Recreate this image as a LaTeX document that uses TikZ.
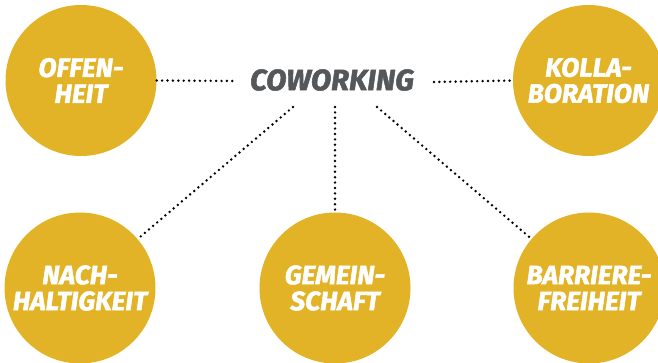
\documentclass[tikz,border=0pt]{standalone}
\usepackage{fontspec}
\setmainfont{Fira Sans}[BoldItalicFeatures={FakeBold=1.8}]
\definecolor{gold}{HTML}{E2B327}
\definecolor{slate}{HTML}{54585A}
\tikzset{
  bubble/.style={circle, fill=gold, minimum size=151pt, inner sep=0pt, text=white, align=center,
    font=\fontsize{26.5}{26}\selectfont\bfseries\itshape},
  hub/.style={text=slate, inner sep=0pt, font=\fontsize{29.5}{32}\selectfont\bfseries\itshape},
  dotline/.style={line width=2.7pt, line cap=round, dash pattern=on 0pt off 5.4pt, black}
}
\begin{document}
\begin{tikzpicture}[x=1pt,y=-1pt]
\useasboundingbox (0,0) rectangle (658,363);
\clip (0,0) rectangle (658,363);
\node[bubble] (offen) at (81,80.5) {OFFEN-\\HEIT};
\node[bubble] (kolla) at (588.5,80.5) {KOLLA-\\BORATION};
\node[bubble] (nach) at (80,288) {NACH-\\HALTIGKEIT};
\node[bubble] (gemein) at (335,288) {GEMEIN-\\SCHAFT};
\node[bubble] (barr) at (589,288) {BARRIERE-\\FREIHEIT};
\node[hub] (cw) at (332,80) {COWORKING};
\coordinate (cwL) at (237,81);
\coordinate (cwR) at (434,82);
\coordinate (cwSW) at (293,107);
\coordinate (cwS) at (335,107);
\coordinate (cwSE) at (377,107);
\draw[dotline] (offen.east) -- (cwL);
\draw[dotline] (cwR) -- (kolla.west);
\draw[dotline] (cwSW) -- (nach);
\draw[dotline] (cwS) -- (gemein);
\draw[dotline] (cwSE) -- (barr);
\end{tikzpicture}
\end{document}
